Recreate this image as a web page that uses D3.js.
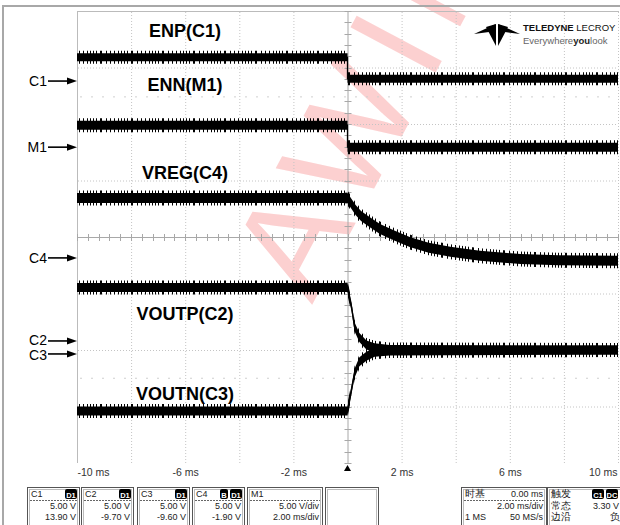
<!DOCTYPE html>
<html><head><meta charset="utf-8">
<script src="https://cdn.jsdelivr.net/npm/d3@7"></script>
<style>
body{margin:0;background:#fff;}
svg{display:block;font-family:"Liberation Sans",Arial,sans-serif;}
</style>
</head><body>
<svg id="c" width="620" height="525"></svg>
<script>
// ---------------- data ----------------
const timeTicks = [-10, -6, -2, 2, 6, 10];
const voltsPerDiv = 5;
const traceNames = ["ENP(C1)", "ENN(M1)", "VREG(C4)", "VOUTP(C2)", "VOUTN(C3)"];
const traceChannels = ["C1", "M1", "C4", "C2", "C3"];
const groundDiv = [2.76, 1.59, -0.37, -1.84, -2.07];

const enpTime  = [-10, 0, 0, 10];
const enpVolts = [2.1, 2.1, 0.2, 0.2];
const ennTime  = [-10, 0, 0, 10];
const ennVolts = [1.95, 1.95, 0, 0];
const vregTime  = [-10, 0, 0.1, 0.3, 0.5, 0.8, 1.2, 1.75, 2.3, 3.0, 3.8, 4.9, 6.4, 7.8, 10];
const vregVolts = [5.3, 5.3, 4.95, 4.25, 3.7, 3.2, 2.55, 1.95, 1.4, 0.9, 0.55, 0.2, -0.1, -0.2, -0.25];
const voutpTime  = [-10, 0, 0.04, 0.15, 0.26, 0.44, 0.7, 1.0, 1.55, 10];
const voutpVolts = [4.73, 4.73, 4.25, 3.0, 1.25, 0.3, -0.35, -0.6, -0.75, -0.8];
const voutnTime  = [-10, 0, 0.04, 0.11, 0.26, 0.44, 0.7, 1.0, 1.55, 10];
const voutnVolts = [-5.05, -5.05, -4.5, -3.65, -1.7, -0.7, -0.2, 0.15, 0.27, 0.35];

const boxTitles = ["C1", "C2", "C3", "C4", "M1"];
const boxBadges = [["D1"], ["D1"], ["D1"], ["B", "D1"], []];
const boxRow1 = ["5.00 V", "5.00 V", "5.00 V", "5.00 V", "5.00 V/div"];
const boxRow2 = ["13.90 V", "-9.70 V", "-9.60 V", "-1.90 V", "2.00 ms/div"];
const timebaseTexts = ["时基", "0.00 ms", "2.00 ms/div", "1 MS", "50 MS/s"];
const triggerTexts = ["触发", "常态", "3.30 V", "边沿", "负"];
const triggerBadges = ["C1", "DC"];

// ---------------- layout ----------------
const svg = d3.select("#c");
const x = d3.scaleLinear().domain([-10, 10]).range([77, 618]);
const y = d3.scaleLinear().domain([-4, 4]).range([463, 11]);

const traces = [
  {t: enpTime, v: enpVolts, half: 4},
  {t: ennTime, v: ennVolts, half: 4.5},
  {t: vregTime, v: vregVolts, half: 5},
  {t: voutpTime, v: voutpVolts, half: 4.5},
  {t: voutnTime, v: voutnVolts, half: 4.5}
];

const defs = svg.append("defs");
const pat = defs.append("pattern").attr("id", "spk").attr("patternUnits", "userSpaceOnUse")
  .attr("width", 31).attr("height", 525);
[0, 3, 7, 8, 13, 17, 21, 25, 28].forEach(px =>
  pat.append("rect").attr("x", px).attr("y", 0).attr("width", 1).attr("height", 525).attr("fill", "#000"));
defs.append("clipPath").attr("id", "plotclip").append("rect")
  .attr("x", 77).attr("y", 11).attr("width", 542).attr("height", 452);

// watermark
svg.append("text").attr("transform", "translate(312,305) rotate(-62)")
  .attr("font-size", 140).attr("fill", "#fcd0d0").attr("letter-spacing", 15)
  .text("AWINIC");

// outer screen border
svg.append("line").attr("x1", 3).attr("x2", 620).attr("y1", 6).attr("y2", 6)
  .attr("stroke", "#a8a8a8").attr("stroke-width", 2);
svg.append("line").attr("x1", 3).attr("x2", 3).attr("y1", 5).attr("y2", 525)
  .attr("stroke", "#a8a8a8").attr("stroke-width", 2);

// plot frame
svg.append("line").attr("x1", 77).attr("x2", 619).attr("y1", 11.5).attr("y2", 11.5)
  .attr("stroke", "#bbb");
svg.append("line").attr("x1", 77.5).attr("x2", 77.5).attr("y1", 11).attr("y2", 463)
  .attr("stroke", "#bbb");

// grid
const grid = svg.append("g").attr("stroke", "#c4c4c4").attr("stroke-dasharray", "1,2");
d3.range(-8, 11, 2).forEach(t => {
  if (t === 0) return;
  grid.append("line").attr("x1", x(t) + 0.5).attr("x2", x(t) + 0.5).attr("y1", 12).attr("y2", 463);
});
d3.range(-3, 4, 1).forEach(d => {
  if (d === 0) return;
  grid.append("line").attr("x1", 78).attr("x2", 618).attr("y1", y(d) + 0.5).attr("y2", y(d) + 0.5);
});
[2.48, -2.5].forEach(d => {
  svg.append("line").attr("x1", 80).attr("x2", 618).attr("y1", y(d)).attr("y2", y(d))
    .attr("stroke", "#cfcfcf").attr("stroke-dasharray", "2,9");
});
// center axes with ticks
const cg = svg.append("g").attr("stroke", "#a8a8a8");
cg.append("line").attr("x1", x(0) + 0.5).attr("x2", x(0) + 0.5).attr("y1", 12).attr("y2", 463);
cg.append("line").attr("x1", 78).attr("x2", 618).attr("y1", y(0) + 0.5).attr("y2", y(0) + 0.5);
d3.range(-4, 4.001, 0.2).forEach(d => {
  cg.append("line").attr("x1", x(0) - 3).attr("x2", x(0) + 4).attr("y1", Math.round(y(d)) + 0.5).attr("y2", Math.round(y(d)) + 0.5);
});
d3.range(-10, 10.001, 0.4).forEach(t => {
  cg.append("line").attr("x1", Math.round(x(t)) + 0.5).attr("x2", Math.round(x(t)) + 0.5).attr("y1", y(0) - 3).attr("y2", y(0) + 4);
});

// traces
const tg = svg.append("g").attr("clip-path", "url(#plotclip)");
traces.forEach((tr, i) => {
  const pts = tr.t.map((t, k) => ({t, d: groundDiv[i] + tr.v[k] / voltsPerDiv}));
  const spikes = d3.area().x(p => x(p.t)).y0(p => y(p.d) - tr.half - 2.5).y1(p => y(p.d) + tr.half + 2.5);
  const band = d3.area().x(p => x(p.t)).y0(p => y(p.d) - tr.half).y1(p => y(p.d) + tr.half);
  const line = d3.line().x(p => x(p.t)).y(p => y(p.d));
  tg.append("path").attr("d", spikes(pts)).attr("fill", "url(#spk)");
  tg.append("path").attr("d", band(pts)).attr("fill", "#000");
  tg.append("path").attr("d", line(pts)).attr("fill", "none").attr("stroke", "#000").attr("stroke-width", 1.3);
});

// trace labels
const labelBase = [37, 91, 179, 320, 400];
traceNames.forEach((n, i) => {
  svg.append("text").attr("x", 185).attr("y", labelBase[i]).attr("text-anchor", "middle")
    .attr("font-size", 18).attr("font-weight", "bold").attr("fill", "#000").text(n);
});

// channel arrows
const arrowTextDy = [5, 5, 5, 4, 6];
traceChannels.forEach((c, i) => {
  const yy = y(groundDiv[i]);
  svg.append("text").attr("x", 47).attr("y", yy + arrowTextDy[i]).attr("text-anchor", "end")
    .attr("font-size", 14).attr("fill", "#000").text(c);
  svg.append("line").attr("x1", 48).attr("x2", 70).attr("y1", yy).attr("y2", yy)
    .attr("stroke", "#000").attr("stroke-width", 1.6);
  svg.append("path").attr("d", `M77,${yy} L67,${yy - 3.5} L67,${yy + 3.5} Z`).attr("fill", "#000");
});

// logo
const logo = svg.append("g").attr("fill", "#000");
[
  [[474,34],[496,24],[489,32]],
  [[520,34],[498,24],[505,32]],
  [[486,27],[496,24],[496,46]],
  [[508,27],[498,24],[498,46]]
].forEach(p => logo.append("polygon").attr("points", p.map(q => q.join(",")).join(" ")));
svg.append("text").attr("x", 523).attr("y", 31).attr("font-size", 9.5).attr("fill", "#111")
  .call(t => { t.append("tspan").attr("font-weight", "bold").text("TELEDYNE "); t.append("tspan").text("LECROY"); });
svg.append("text").attr("x", 523).attr("y", 43.5).attr("font-size", 9.5).attr("fill", "#666")
  .call(t => { t.append("tspan").text("Everywhere"); t.append("tspan").attr("font-weight", "bold").attr("fill", "#222").text("you"); t.append("tspan").text("look"); });

// time axis
const ax = svg.append("g").attr("transform", "translate(0,463)")
  .call(d3.axisBottom(x).tickValues(timeTicks).tickSize(0).tickPadding(6).tickFormat(d => `${d} ms`));
ax.select(".domain").remove();
ax.selectAll("text").attr("font-size", 10.5).attr("fill", "#333")
  .attr("font-family", "Liberation Sans, Arial, sans-serif")
  .attr("text-anchor", (d, i) => i === 0 ? "start" : (i === timeTicks.length - 1 ? "end" : "middle"))
  .attr("dx", (d, i) => i === timeTicks.length - 1 ? -1 : 0);
svg.append("path").attr("d", `M${x(0)},465 L${x(0) - 3.5},471 L${x(0) + 3.5},471 Z`).attr("fill", "#000");

// bottom info boxes
function box(x0, x1) {
  const g = svg.append("g");
  g.append("rect").attr("x", x0 + 0.5).attr("y", 487.5).attr("width", x1 - x0).attr("height", 50)
    .attr("fill", "#fff").attr("stroke", "#555");
  g.append("rect").attr("x", x0 + 2.5).attr("y", 489.5).attr("width", x1 - x0 - 4).attr("height", 50)
    .attr("fill", "none").attr("stroke", "#bbb");
  return g;
}
function badge(g, bx, txt) {
  const w = txt.length > 1 ? 12 : 8;
  g.append("rect").attr("x", bx).attr("y", 489).attr("width", w).attr("height", 10).attr("rx", 2).attr("fill", "#000");
  g.append("text").attr("x", bx + w / 2).attr("y", 497.5).attr("text-anchor", "middle")
    .attr("font-size", 7.5).attr("font-weight", "bold").attr("fill", "#fff").text(txt);
}
const boxX = [[27, 79], [81, 133], [137, 189], [192, 244], [247, 322]];
boxTitles.forEach((tl, i) => {
  const [x0, x1] = boxX[i];
  const g = box(x0, x1);
  g.append("text").attr("x", x0 + 4).attr("y", 497).attr("font-size", 9).attr("fill", "#222").text(tl);
  let bx = x1 - 2;
  boxBadges[i].slice().reverse().forEach(b => { const w = b.length > 1 ? 12 : 8; bx -= w; badge(g, bx, b); bx -= 2; });
  g.append("line").attr("x1", x0 + 3).attr("x2", x1 - 2).attr("y1", 500.5).attr("y2", 500.5)
    .attr("stroke", "#666").attr("stroke-dasharray", "2,1");
  g.append("text").attr("x", x1 - 3).attr("y", 509).attr("text-anchor", "end").attr("font-size", 9).attr("fill", "#222").text(boxRow1[i]);
  g.append("text").attr("x", x1 - 3).attr("y", 520).attr("text-anchor", "end").attr("font-size", 9).attr("fill", "#222").text(boxRow2[i]);
});
box(325, 378);
{
  const g = box(461, 546);
  g.append("text").attr("x", 465).attr("y", 497).attr("font-size", 9.5).attr("fill", "#222").text(timebaseTexts[0]);
  g.append("text").attr("x", 543).attr("y", 497).attr("text-anchor", "end").attr("font-size", 9).attr("fill", "#222").text(timebaseTexts[1]);
  g.append("line").attr("x1", 464).attr("x2", 545).attr("y1", 500.5).attr("y2", 500.5).attr("stroke", "#666").attr("stroke-dasharray", "2,1");
  g.append("text").attr("x", 543).attr("y", 509).attr("text-anchor", "end").attr("font-size", 9).attr("fill", "#222").text(timebaseTexts[2]);
  g.append("text").attr("x", 465).attr("y", 520).attr("font-size", 9).attr("fill", "#222").text(timebaseTexts[3]);
  g.append("text").attr("x", 543).attr("y", 520).attr("text-anchor", "end").attr("font-size", 9).attr("fill", "#222").text(timebaseTexts[4]);
}
{
  const g = box(547, 640);
  g.append("text").attr("x", 551).attr("y", 497).attr("font-size", 9.5).attr("fill", "#222").text(triggerTexts[0]);
  badge(g, 592, triggerBadges[0]);
  badge(g, 606, triggerBadges[1]);
  g.append("text").attr("x", 551).attr("y", 509).attr("font-size", 9.5).attr("fill", "#222").text(triggerTexts[1]);
  g.append("text").attr("x", 619).attr("y", 509).attr("text-anchor", "end").attr("font-size", 9).attr("fill", "#222").text(triggerTexts[2]);
  g.append("text").attr("x", 551).attr("y", 520).attr("font-size", 9.5).attr("fill", "#222").text(triggerTexts[3]);
  g.append("text").attr("x", 610).attr("y", 520).attr("font-size", 9.5).attr("fill", "#222").text(triggerTexts[4]);
}
</script>
</body></html>
